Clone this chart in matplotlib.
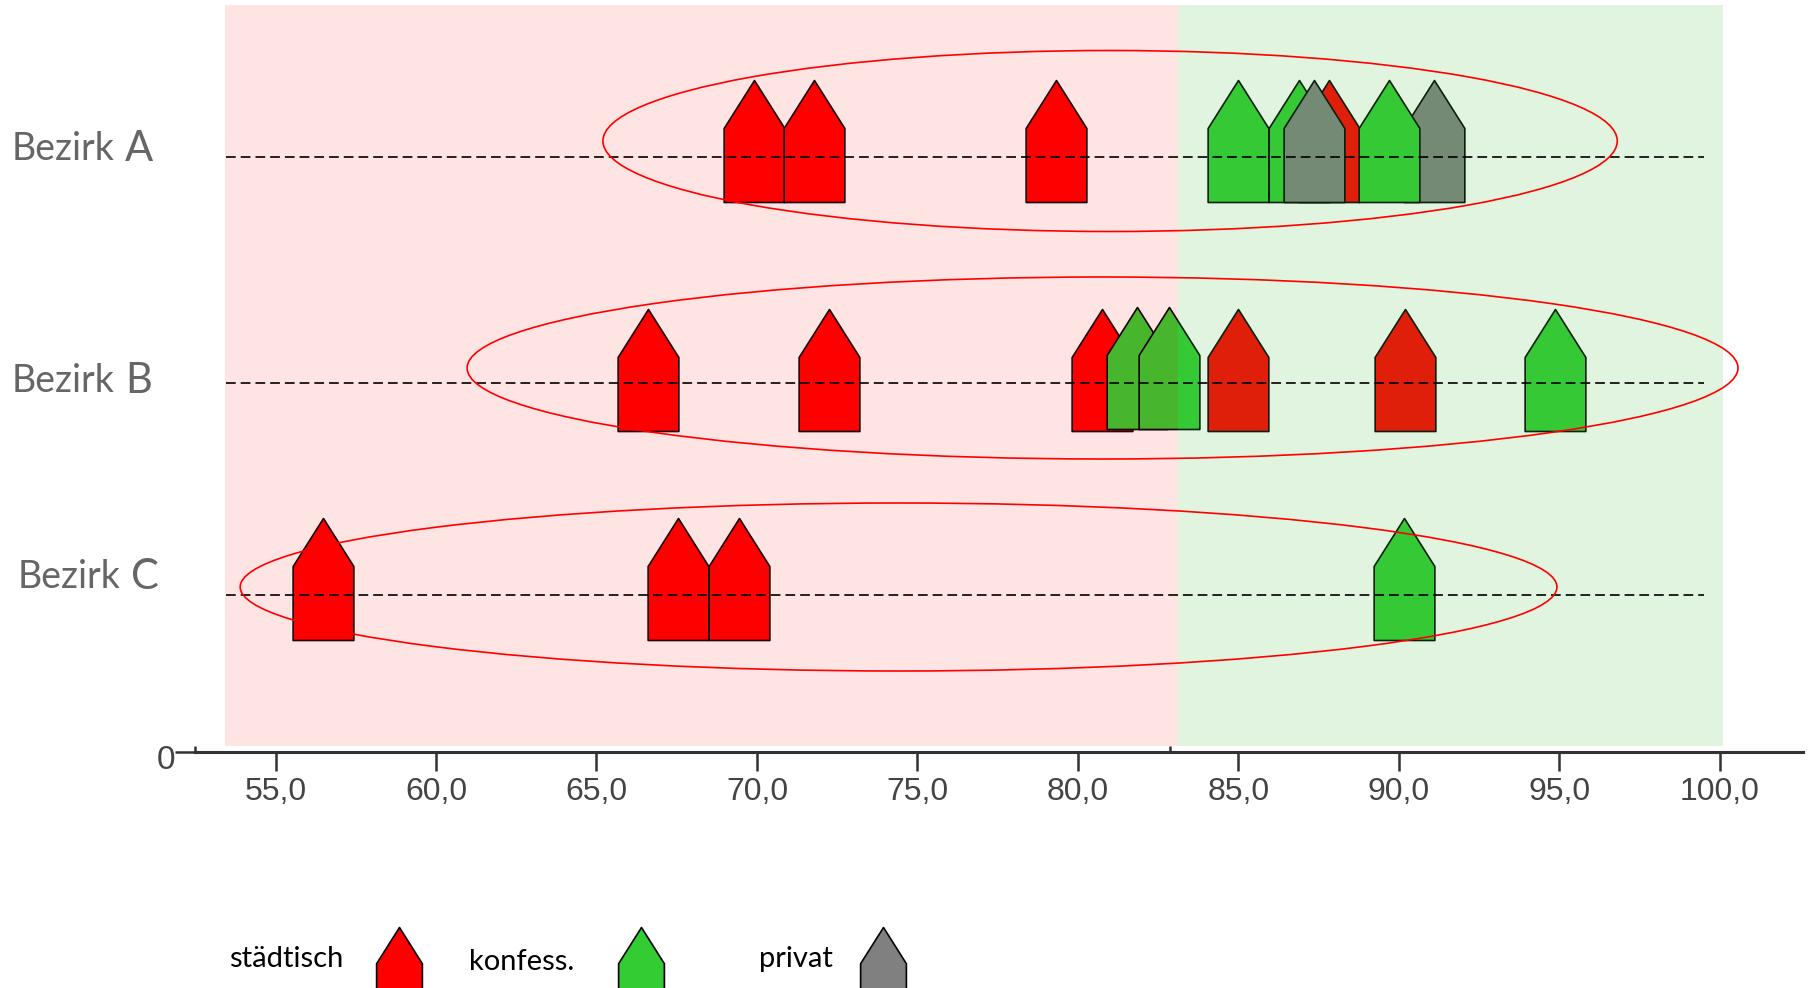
import matplotlib
matplotlib.use("Agg")
import matplotlib.pyplot as plt
from matplotlib.path import Path
from matplotlib.patches import Ellipse
from matplotlib.transforms import ScaledTranslation

W, H = 1812, 988
DPI = 100
plt.rcParams['lines.scale_dashes'] = False

# ---- data -------------------------------------------------------------
tick_values = [55, 60, 65, 70, 75, 80, 85, 90, 95, 100]
tick_labels = ["55,0", "60,0", "65,0", "70,0", "75,0", "80,0", "85,0", "90,0", "95,0", "100,0"]
band_edges = [53.42, 83.12, 100.0]

rows = ["Bezirk A", "Bezirk B", "Bezirk C"]
row_levels = [595, 369, 157]
range_low = [65.2, 60.97, 53.9]
range_high = [96.8, 100.56, 94.92]

a_types = ["r", "r", "r", "gray", "r", "g", "gray", "g", "g"]
a_x = [69.9, 71.78, 79.33, 91.1, 87.83, 86.87, 87.35, 84.98, 89.7]
a_y = [611, 611, 611, 611, 611, 611, 611, 611, 611]

b_types = ["r", "r", "r", "g", "g", "r", "r", "g"]
b_x = [66.6, 72.24, 80.75, 81.83, 82.82, 84.98, 90.18, 94.87]
b_y = [382.5, 382.5, 382.5, 384.5, 384.5, 382.5, 382.5, 382.5]

c_types = ["r", "r", "r", "g"]
c_x = [56.48, 67.55, 69.44, 90.17]
c_y = [173, 173, 173, 173]

legend_names = ["städtisch", "konfess.", "privat"]
legend_types = ["r", "g", "gray"]

colors = {"r": "#ff0000", "g": "#33cc33", "gray": "#808080"}

# ---- scales ------------------------------------------------------------
PX = 32.1
ax_left_px, ax_right_px, ax_bottom_px = 195, 1803, 752
fig = plt.figure(figsize=(W / DPI, H / DPI), dpi=DPI, facecolor="white")
ax = fig.add_axes([ax_left_px / W, 1 - ax_bottom_px / H,
                   (ax_right_px - ax_left_px) / W, ax_bottom_px / H])
ax.set_xlim(55 + (ax_left_px - 275.5) / PX, 55 + (ax_right_px - 275.5) / PX)
ax.set_ylim(0, ax_bottom_px)
ax.patch.set_visible(False)

px2pt = 72 / DPI
house_verts = [(0, 1), (0.4975, 0.213), (0.4975, -1), (-0.4975, -1), (-0.4975, 0.213), (0, 1), (0, 1)]
house_codes = [Path.MOVETO, Path.LINETO, Path.LINETO, Path.LINETO, Path.LINETO, Path.LINETO, Path.CLOSEPOLY]
house = Path(house_verts, house_codes)


def draw_houses(xs, ys, kinds, size_px=122, z=2, mew=1.2):
    for x, y, k in zip(xs, ys, kinds):
        ax.plot([x], [y], marker=house, ms=size_px * px2pt, mfc=colors[k], mec="black",
                mew=mew, ls="none", zorder=z, clip_on=False)


draw_houses(a_x, a_y, a_types)
draw_houses(b_x, b_y, b_types)
draw_houses(c_x, c_y, c_types)

# tinted bands lie over the houses
ax.axvspan(band_edges[0], band_edges[1], ymin=6 / 752, ymax=747 / 752,
           color=(1, 0, 0), alpha=0.107, lw=0, zorder=3)
ax.axvspan(band_edges[1], band_edges[2] + 0.1, ymin=6 / 752, ymax=747 / 752,
           color=(67 / 255, 194 / 255, 67 / 255), alpha=0.165, lw=0, zorder=3)

# dashed row lines
for lev in row_levels:
    ax.plot([53.45, 99.5], [lev, lev], color="black", lw=1.2, dashes=(7.0, 3.6), zorder=4)

# ellipses
centres = [611, 384, 165]
heights = [181, 182, 168]
for lo, hi, cy, h in zip(range_low, range_high, centres, heights):
    ax.add_patch(Ellipse(((lo + hi) / 2, cy), hi - lo, h, fill=False, ec="#ff0000",
                         lw=1.2, zorder=5, clip_on=False))

# axis
for s in ("top", "left", "right"):
    ax.spines[s].set_visible(False)
ax.spines["bottom"].set_linewidth(2.2)
ax.spines["bottom"].set_color("#333333")
ax.set_xticks(tick_values)
ax.set_xticklabels(tick_labels, fontfamily="Liberation Sans", fontsize=23, color="#444444")
ax.tick_params(axis="x", length=19 * px2pt, width=1.8, color="#333333", pad=4)
ax.set_xticks([52.5, 82.87], minor=True)
ax.tick_params(axis="x", which="minor", direction="in", length=6 * px2pt, width=1.8, color="#333333")
ax.set_yticks([0])
ax.set_yticklabels(["0"], fontfamily="Liberation Sans", fontsize=24, color="#444444",
                   va="center_baseline")
ax.tick_params(axis="y", length=20 * px2pt, width=1.8, color="#333333", pad=0)
for lab in ax.get_yticklabels():
    lab.set_transform(lab.get_transform() + ScaledTranslation(0, -3.5 / 72, fig.dpi_scale_trans))

# row labels
label_x = [12, 12, 18]
label_y = [149, 381, 577]
for name, px, py in zip(rows, label_x, label_y):
    first, second = name.split(" ")
    t = fig.text(px / W, 1 - py / H, first, family="Lato", fontsize=27, color="#666666", va="center")
    fig.canvas.draw()
    bb = t.get_window_extent()
    fig.text((bb.x1 + 10) / W, 1 - py / H, second, family="Lato", fontsize=30, color="#666666", va="center")

# legend
leg_text_x = [229, 469, 759]
leg_text_y = [959, 962, 959]
leg_marker_x = [399.5, 641, 883]
for name, tx, ty, mx, k in zip(legend_names, leg_text_x, leg_text_y, leg_marker_x, legend_types):
    fig.text(tx / W, 1 - ty / H, name, family="Lato", fontsize=21, color="black", va="center")
    ax.plot([55 + (mx - 275.5) / PX], [-221], marker=house, ms=92 * px2pt, mfc=colors[k],
            mec="black", mew=1.2, ls="none", clip_on=False, zorder=2)

fig.savefig("out.png", dpi=DPI)
